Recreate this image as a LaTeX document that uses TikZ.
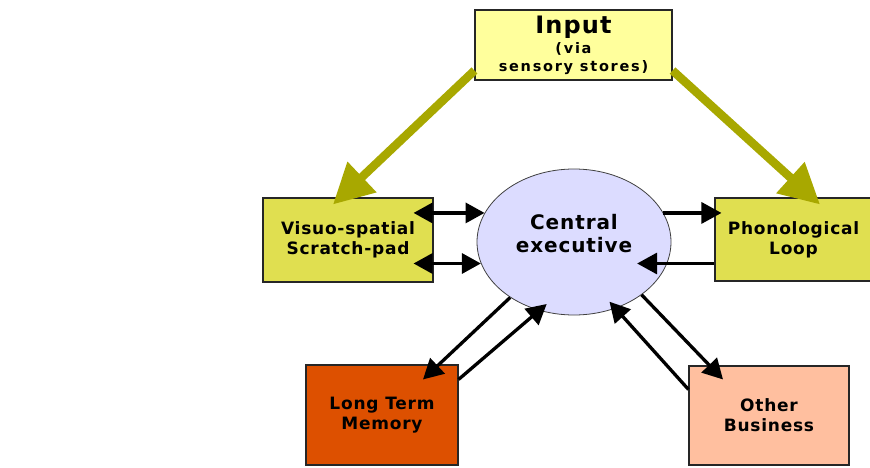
\documentclass[tikz,border=0pt]{standalone}
\usepackage{fontspec}
\setsansfont{DejaVu Sans}[LetterSpace=4.5]
\newfontfamily\widesans{DejaVu Sans}[LetterSpace=12]
\usetikzlibrary{arrows.meta,shapes.geometric}
\definecolor{inputyellow}{HTML}{FFFF9C}
\definecolor{slaveyellow}{HTML}{E0DF50}
\definecolor{execlilac}{HTML}{DCDCFF}
\definecolor{ltmorange}{HTML}{DD5000}
\definecolor{otherpeach}{HTML}{FFBF9F}
\definecolor{feedolive}{HTML}{A8A800}
\newcommand{\smallwide}{\widesans\bfseries\fontsize{14.5}{19}\selectfont}

\begin{document}
\begin{tikzpicture}[
  x=1pt, y=-1pt,
  every node/.style={font=\sffamily\bfseries},
  box/.style={draw=black!85, line width=1.1pt, align=center, inner sep=0pt},
  store/.style={box, font=\sffamily\bfseries\fontsize{17}{20}\selectfont},
  exec/.style={draw=black!75, line width=0.8pt, fill=execlilac, ellipse, inner sep=0pt},
  link/.style={line width=3.3pt, -{Triangle[length=20pt,width=21pt]}},
  twoway/.style={line width=3.3pt, {Triangle[length=19pt,width=20pt]}-{Triangle[length=19pt,width=20pt]}},
  feed/.style={draw=feedolive, line width=8.5pt, -{Triangle[length=40pt,width=40pt]}}
]
\useasboundingbox (0,0) rectangle (870,468);

% boxes
\node[box, fill=inputyellow, minimum width=197, minimum height=70] (input) at (573.5,45)
  {\fontsize{24}{24}\selectfont Input\\[3pt]
   \smallwide (via\\[4pt] \smallwide sensory stores)};
\node[store, fill=slaveyellow, minimum width=170, minimum height=84] (visuo) at (348,240) {Visuo-spatial\\Scratch-pad};
\node[store, fill=slaveyellow, minimum width=157, minimum height=83] (phono) at (793.5,239.5) {Phonological\\Loop};
\node[exec, minimum width=194, minimum height=146,
  label={[name=exectext, yshift=8pt, align=center, font=\sffamily\bfseries\fontsize{20}{23}\selectfont]center:Central\\executive}] (central) at (574,242) {};
\node[store, fill=ltmorange, minimum width=152, minimum height=100] (ltm) at (382,415) {Long Term\\Memory};
\node[store, fill=otherpeach, minimum width=160, minimum height=99] (other) at (769,415.5) {Other\\Business};

% sensory input
\draw[feed] ([yshift=10pt]input.south west) -- ([xshift=-15pt,yshift=-7pt]visuo.north);
\draw[feed] ([yshift=10pt]input.south east) -- ([xshift=26.5pt,yshift=-7pt]phono.north);

% slave systems
\draw[twoway] ([xshift=-20pt]visuo.east |- central.162) -- (central.162);
\draw[twoway] ([xshift=-20pt]visuo.east |- central.193) -- (central.193);
\draw[link] (central.18) -- ([xshift=7pt]phono.west |- central.18);
\draw[link] (phono.west |- central.347) -- ([xshift=-30pt]central.347);

% long term memory and other business
\draw[link] (central.221) -- ([xshift=41pt,yshift=-15pt]ltm.north);
\draw[link, shorten >=-10pt] ([yshift=-15pt]ltm.north east) -- (central.243);
\draw[link] (central.322) -- ([xshift=-46pt,yshift=-14pt]other.north);
\draw[link, shorten >=-9pt] ([yshift=-24pt]other.north west) -- (central.302);
\end{tikzpicture}
\end{document}
